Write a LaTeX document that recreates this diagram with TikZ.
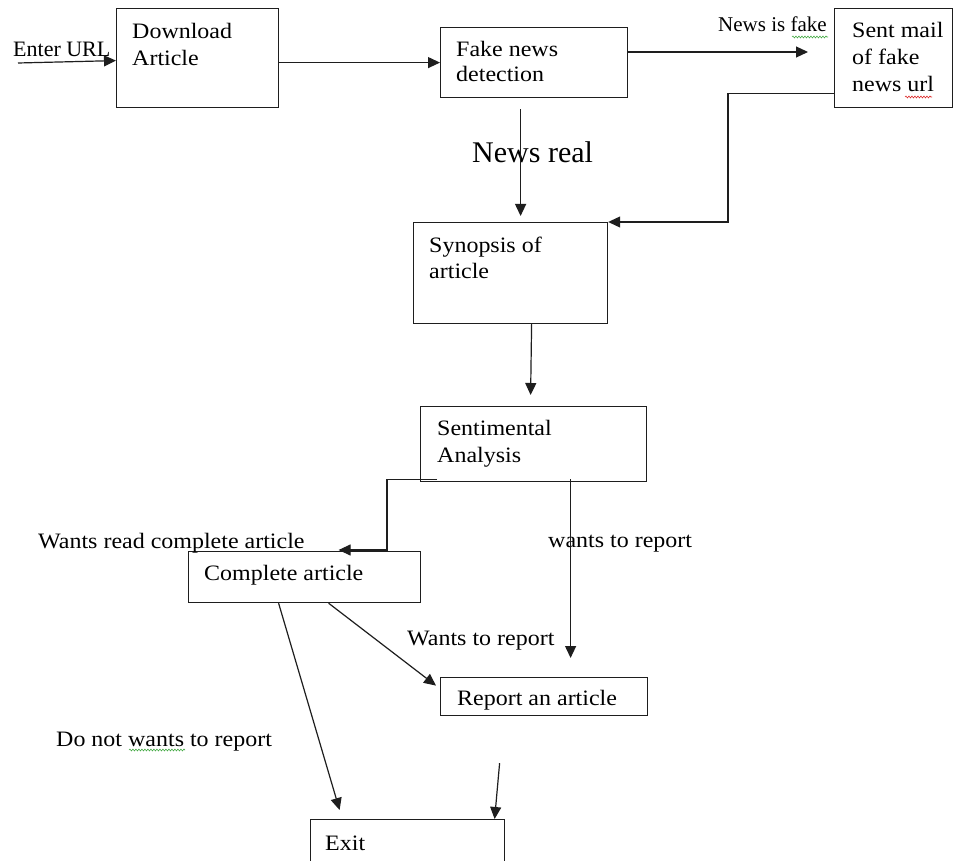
\documentclass[tikz,border=0pt]{standalone}
\usepackage{fontspec}
\setmainfont{Liberation Serif}
\newfontfamily\bxfont{Liberation Serif}[FakeStretch=1.09]
\usetikzlibrary{arrows.meta,calc,decorations.pathmorphing}
\definecolor{lc}{RGB}{30,30,30}
\definecolor{spgreen}{RGB}{70,170,70}
\definecolor{spred}{RGB}{220,40,40}
\tikzset{
  box/.style={draw=lc, line width=1.2pt, rectangle, inner sep=0pt, anchor=north west},
  txt/.style={anchor=base west, inner sep=0pt, font=\bxfont\fontsize{22}{26}\selectfont, text=black},
  lbl/.style={anchor=base west, inner sep=0pt, font=\fontsize{21}{25}\selectfont, text=black},
  arr/.style={draw=lc, line width=1.2pt, -{Triangle[length=12pt,width=11pt]}},
  squig/.style={decorate, decoration={snake, amplitude=0.9pt, segment length=3pt}, line width=0.6pt}
}
\begin{document}
\begin{tikzpicture}[x=1pt,y=-1pt]
\useasboundingbox (0,0) rectangle (953,861);
\clip (0,0) rectangle (953,861);
\fill[white] (0,0) rectangle (953,861);

% boxes
\node[box, minimum width=162pt, minimum height=99pt] (dl) at (116,8) {};
\node[box, minimum width=187pt, minimum height=70pt] (fk) at (440,27) {};
\node[box, minimum width=118pt, minimum height=99pt] (sm) at (834,8) {};
\node[box, minimum width=194pt, minimum height=101pt] (syn) at (413,222) {};
\node[box, minimum width=226pt, minimum height=75pt] (sa) at (420,406) {};
\node[box, minimum width=232pt, minimum height=51pt] (ca) at (188,551) {};
\node[box, minimum width=207pt, minimum height=38pt] (ra) at (440,677) {};
\node[box, minimum width=194pt, minimum height=60pt] (ex) at (310,819) {};

% box texts
\node[txt] (dl1) at (132,39) {Download};
\node[txt] (dl2) at (132,66) {Article};
\node[txt] (fk1) at (456,57) {Fake news};
\node[txt] (fk2) at (456,82) {detection};
\node[txt] (sm1) at (852,38) {Sent mail};
\node[txt] (sm2) at (852,65) {of fake};
\node[txt] (sm3) at (852,92) {news url};
\node[txt] (syn1) at (429,252) {Synopsis of};
\node[txt] (syn2) at (429,278) {article};
\node[txt] (sa1) at (437,435) {Sentimental};
\node[txt] (sa2) at (437,462) {Analysis};
\node[txt] (ca1) at (204,580) {Complete article};
\node[txt] (ra1) at (457,705) {Report an article};
\node[txt] (ex1) at (325,850) {Exit};

% labels
\node[lbl, font=\fontsize{22}{26}\selectfont] (lurl) at (13,57) {Enter URL};
\node[lbl] (lfake) at (718,32) {News is fake};
\node[lbl, font=\fontsize{30}{34}\selectfont] (lreal) at (472,163) {News real};
\node[txt] (lread) at (38,548) {Wants read complete article};
\node[txt] (lrep1) at (548,547) {wants to report};
\node[txt] (lrep2) at (407,645) {Wants to report};
\node[txt] (lnot) at (56,746) {Do not wants to report};

% spell-check squiggles
\draw[squig, spgreen] (792,37) -- (828,37);
\draw[squig, spred] (905,97) -- (932,97);
\draw[squig, spgreen] (129,750) -- (185,750);

% connectors
\coordinate (urlin) at (18,63);
\draw[arr] (urlin) -- ($(dl.west)+(0,2.5)$);
\draw[arr] (dl.east |- fk.west) -- (fk.west);
\draw[arr] ($(fk.north east)+(0,25)$) -- ($(sm.west |- fk.north)+(-26,25)$);
\draw[arr] ($(fk.south)+(-13.5,11)$) -- ($(syn.north)+(10,-6)$);
\draw[arr] ($(sm.south west)+(0,-15)$) -- ++(-106,0) |- (syn.north east);
\draw[arr] ($(syn.south)+(21,0)$) -- ($(sa.north)+(-3,-11)$);
\draw[arr] ($(sa.south west)+(17,-3)$) -- ++(-50,0) |- ($(ca.north)+(34,-1)$);
\draw[arr] ($(sa.south)+(37,-3)$) -- ($(ra.north)+(26.5,-19)$);
\draw[arr] ($(ca.south)+(24,0)$) -- ($(ra.west)+(-4,-11)$);
\draw[arr] ($(ca.south)+(-26,0)$) -- ($(ex.north)+(-68,-9)$);
\coordinate (repout) at ($(ra.south)+(-44.5,47)$);
\draw[arr] (repout) -- ($(ex.north)+(87,0)$);
\end{tikzpicture}
\end{document}
